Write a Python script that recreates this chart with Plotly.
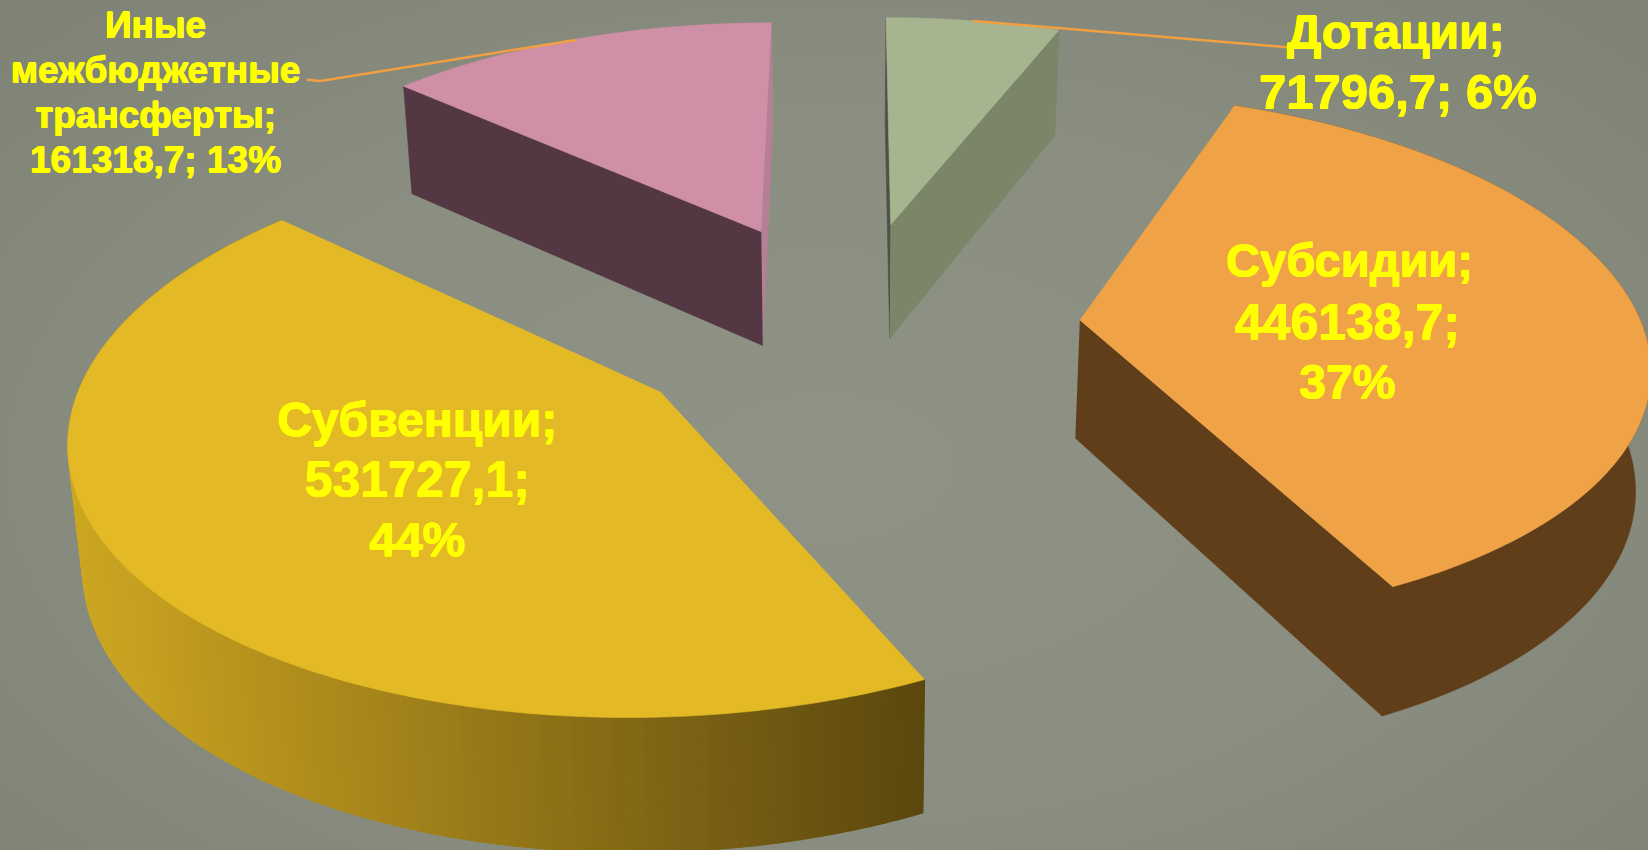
import numpy as np
import plotly.graph_objects as go

# ---- chart data -------------------------------------------------------
categories = ["Дотации", "Субсидии", "Субвенции", "Иные межбюджетные трансферты"]
values = [71796.7, 446138.7, 531727.1, 161318.7]
percents = [6, 37, 44, 13]
value_labels = ["71796,7", "446138,7", "531727,1", "161318,7"]

# ---- styling ----------------------------------------------------------
BG_CSS = "radial-gradient(ellipse at 50% 55%, #8f9386 0%, #8a8e80 55%, #7e8274 100%)"
TOP = ["#a6b48f", "#f0a247", "#e3ba25", "#cf8fa6"]
WALL = ["#7b8669", "#613e1a", None, "#533743"]
BACK_FACE = ["#4c5245", None, None, "#b67f96"]
YELLOW_STOPS_X = [62, 130, 400, 650, 879]
YELLOW_STOPS_RGB = [(205, 168, 34), (198, 160, 32), (160, 128, 26), (124, 98, 20), (92, 72, 14)]
TEXT = "#ffff00"
LEADER = "#f0a040"
HEAVY = "0.5px 0 0 #ffff00, -0.5px 0 0 #ffff00, 0 0.5px 0 #ffff00, 0 -0.5px 0 #ffff00"

W, H = 1568, 809          # axis units (scaled to the 1648x850 page)

# ---- perspective camera of the exploded 3D pie -------------------------
PULL = 0.41


def project(X, Y):
    t = 13170.0 / (np.asarray(Y) + 7.28)
    return 809 + np.asarray(X) * t / 3.385, t - 1500


def drop(x, y):
    x, y = np.asarray(x), np.asarray(y)
    return x + (800 - x) * 0.019, y + 100 + (y - 30) * 0.0436


def ground(theta, mid):
    return (PULL * np.sin(mid) + np.sin(theta), PULL * np.cos(mid) + np.cos(theta))


fractions = np.array(values) / sum(values)
edges = np.concatenate([[0], np.cumsum(fractions)]) * 2 * np.pi

fig = go.Figure()


def poly(x, y, color, width=0.6):
    fig.add_trace(go.Scatter(x=list(x), y=list(y), mode="lines", fill="toself", fillcolor=color,
                             line=dict(color=color, width=width, simplify=False),
                             hoverinfo="skip", showlegend=False))


for i in [3, 0, 1, 2]:
    a0, a1 = edges[i], edges[i + 1]
    mid = (a0 + a1) / 2
    thetas = np.linspace(a0, a1, 180)
    ax, ay = project(PULL * np.sin(mid), PULL * np.cos(mid))
    gx, gy = ground(thetas, mid)
    sx, sy = project(gx, gy)
    bx, by = drop(sx, sy)
    abx, aby = drop(ax, ay)

    if i == 0:    # Dotations: thin dark left face, right cut face
        poly([ax, sx[0], bx[0], abx], [ay, sy[0], by[0], aby], BACK_FACE[0])
        poly([ax, sx[-1], bx[-1], abx], [ay, sy[-1], by[-1], aby], WALL[0])
    elif i == 1:  # Subsidies: outer wall and front cut face
        poly(np.r_[sx, bx[::-1]], np.r_[sy, by[::-1]], WALL[1])
        poly([ax, sx[-1], bx[-1], abx], [ay, sy[-1], by[-1], aby], WALL[1])
    elif i == 2:  # Subventions: outer wall with a horizontal gradient
        for k in range(len(thetas) - 1, 0, -1):
            cx = (sx[k] + sx[k - 1]) / 2
            rgb = [np.interp(cx, YELLOW_STOPS_X, [c[j] for c in YELLOW_STOPS_RGB]) for j in range(3)]
            color = "rgb(%d,%d,%d)" % tuple(rgb)
            poly([sx[k], sx[k - 1], bx[k - 1], bx[k]], [sy[k], sy[k - 1], by[k - 1], by[k]], color, width=1.2)
    else:         # Other transfers: thin right face and front-left cut face
        poly([ax, sx[-1], bx[-1], abx], [ay, sy[-1], by[-1], aby], BACK_FACE[3])
        poly([ax, sx[0], bx[0], abx], [ay, sy[0], by[0], aby], WALL[3])

    poly(np.r_[ax, sx], np.r_[ay, sy], TOP[i])

# ---- leader lines -----------------------------------------------------
fig.add_trace(go.Scatter(x=[926, 1222, 1225], y=[20, 45, 45], mode="lines",
                         line=dict(color=LEADER, width=2.5), hoverinfo="skip", showlegend=False))
fig.add_trace(go.Scatter(x=[548, 305, 292], y=[38, 77, 76], mode="lines",
                         line=dict(color=LEADER, width=2.5), hoverinfo="skip", showlegend=False))

# ---- labels -----------------------------------------------------------
text_lines = [
    (f"{categories[0]};", 1328, 35, 48),
    (f"{value_labels[0]}; {percents[0]}%", 1330, 92, 49),
    (f"{categories[1]};", 1284, 252, 47),
    (f"{value_labels[1]};", 1282, 311, 50),
    (f"{percents[1]}%", 1282, 368, 48),
    (f"{categories[2]};", 397, 404, 48),
    (f"{value_labels[2]};", 397, 461, 50),
    (f"{percents[2]}%", 397, 518, 48),
    ("Иные", 148, 27, 37),
    ("межбюджетные", 148, 70, 37),
    ("трансферты;", 148, 113, 37),
    (f"{value_labels[3]}; {percents[3]}%", 148, 155, 37),
]
fig.add_trace(go.Scatter(
    x=[l[1] for l in text_lines], y=[l[2] for l in text_lines], text=[l[0] for l in text_lines],
    mode="text", textposition="middle center", hoverinfo="skip", showlegend=False, cliponaxis=False,
    textfont=dict(family="Liberation Sans", size=[l[3] for l in text_lines], color=TEXT,
                  weight="bold", shadow=HEAVY),
))

fig.update_layout(
    width=1648, height=850, margin=dict(l=0, r=0, t=0, b=0),
    paper_bgcolor="rgba(0,0,0,0)", plot_bgcolor="rgba(0,0,0,0)", showlegend=False,
    xaxis=dict(range=[0, W], visible=False, fixedrange=True),
    yaxis=dict(range=[H, 0], visible=False, fixedrange=True),
)
fig.write_html("out.html",
               post_script="document.body.style.margin='0';document.body.style.height='850px';"
                           "document.body.style.background='%s';" % BG_CSS,
               config={"displayModeBar": False})
